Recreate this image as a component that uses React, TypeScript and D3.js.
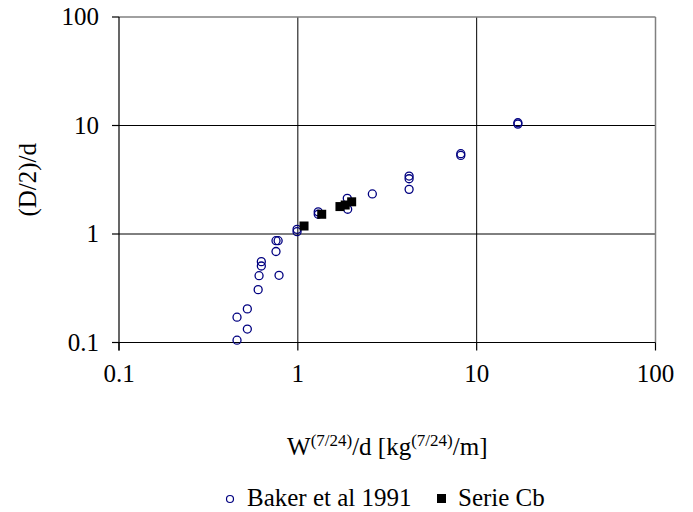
import React from "react";
import * as d3 from "d3";

const bakerX = [0.457, 0.457, 0.522, 0.522, 0.6, 0.607, 0.625, 0.625, 0.755, 0.755, 0.776, 0.785, 0.99, 0.99, 1.3, 1.3, 1.89, 1.9, 2.61, 4.19, 4.19, 4.19, 8.15, 8.15, 17.0, 17.0];
const bakerY = [0.105, 0.171, 0.133, 0.204, 0.307, 0.413, 0.507, 0.556, 0.69, 0.867, 0.867, 0.416, 1.05, 1.105, 1.52, 1.6, 2.13, 1.69, 2.34, 3.42, 3.23, 2.58, 5.3, 5.5, 10.3, 10.6];
const serieX = [1.083, 1.36, 1.72, 1.84, 2.0];
const serieY = [1.185, 1.52, 1.79, 1.85, 1.98];
const xTicks = [0.1, 1, 10, 100];
const yTicks = [0.1, 1, 10, 100];
const xTickLabels = ["0.1", "1", "10", "100"];
const yTickLabels = ["0.1", "1", "10", "100"];

const W = 693;
const H = 512;
const L = 119, R = 655.5, T = 17, B = 342.5;
const FONT = "Liberation Serif, Times New Roman, DejaVu Serif, serif";
const FS = 25;

export default function App() {
  const x = d3.scaleLog().domain([0.1, 100]).range([L, R]);
  const y = d3.scaleLog().domain([0.1, 100]).range([B, T]);
  return (
    <svg width={W} height={H} style={{ position: "absolute", left: 0, top: 0, background: "#fff", fontFamily: FONT }}>
      <rect x={0} y={0} width={W} height={H} fill="#fff" />
      {xTicks.slice(1, -1).map((t) => (
        <line key={"gx" + t} x1={x(t)} x2={x(t)} y1={T} y2={B} stroke="#000" strokeWidth={1} />
      ))}
      {yTicks.slice(1, -1).map((t) => (
        <line key={"gy" + t} x1={L} x2={R} y1={y(t)} y2={y(t)} stroke="#000" strokeWidth={1} />
      ))}
      <line x1={L} x2={R} y1={T} y2={T} stroke="#808080" strokeWidth={1.5} />
      <line x1={R} x2={R} y1={T} y2={B} stroke="#808080" strokeWidth={1.5} />
      <line x1={L} x2={L} y1={T} y2={B + 8} stroke="#000" strokeWidth={1.2} />
      <line x1={L - 7} x2={R} y1={B} y2={B} stroke="#000" strokeWidth={1.2} />
      {xTicks.map((t) => (
        <line key={"tx" + t} x1={x(t)} x2={x(t)} y1={B} y2={B + 8} stroke="#000" strokeWidth={1.2} />
      ))}
      {yTicks.map((t) => (
        <line key={"ty" + t} x1={L - 7} x2={L} y1={y(t)} y2={y(t)} stroke="#000" strokeWidth={1.2} />
      ))}
      {xTicks.map((t, i) => (
        <text key={"lx" + t} x={x(t)} y={B + 39} textAnchor="middle" fontSize={FS}>{xTickLabels[i]}</text>
      ))}
      {yTicks.map((t, i) => (
        <text key={"ly" + t} x={99} y={y(t) + 8} textAnchor="end" fontSize={FS}>{yTickLabels[i]}</text>
      ))}
      <text transform={`translate(36,${(T + B) / 2}) rotate(-90)`} textAnchor="middle" fontSize={FS}>(D/2)/d</text>
      <text x={(L + R) / 2} y={455} textAnchor="middle" fontSize={FS}>
        W<tspan dy={-9} fontSize={17}>(7/24)</tspan><tspan dy={9}>/d [kg</tspan><tspan dy={-9} fontSize={17}>(7/24)</tspan><tspan dy={9}>/m]</tspan>
      </text>
      {bakerX.map((v, i) => (
        <circle key={"b" + i} cx={x(v)} cy={y(bakerY[i])} r={4} fill="none" stroke="#000080" strokeWidth={1.3} />
      ))}
      {serieX.map((v, i) => (
        <rect key={"s" + i} x={x(v) - 4.5} y={y(serieY[i]) - 4.5} width={9} height={9} fill="#000" />
      ))}
      <circle cx={230} cy={499} r={3.5} fill="none" stroke="#000080" strokeWidth={1.2} />
      <text x={247} y={506} fontSize={FS}>Baker et al 1991</text>
      <rect x={437} y={494} width={9} height={9} fill="#000" />
      <text x={458} y={506} fontSize={FS}>Serie Cb</text>
    </svg>
  );
}
